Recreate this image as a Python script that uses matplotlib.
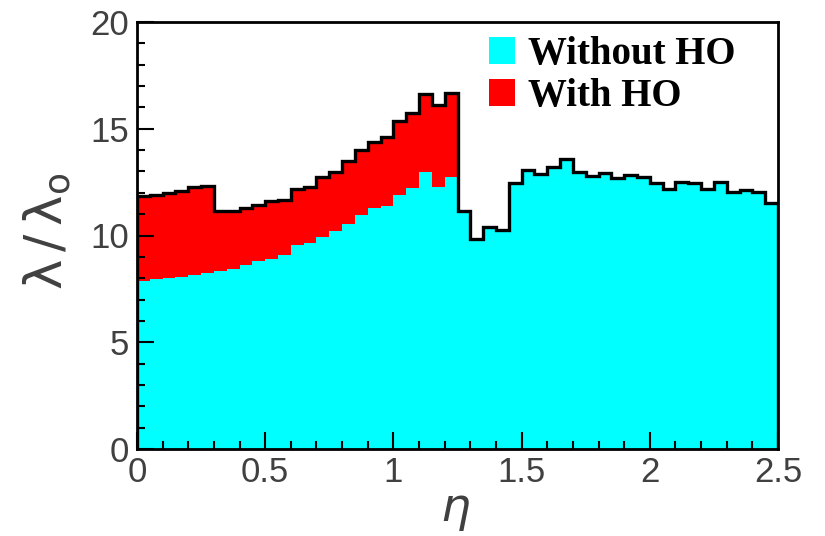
import numpy as np
import matplotlib
matplotlib.use("Agg")
import matplotlib.pyplot as plt
from matplotlib.patches import Patch

# 50 bins in eta, 0 to 2.5
eta_edges = np.linspace(0.0, 2.5, 51)

without_ho = [7.88, 7.95, 8.00, 8.05, 8.15, 8.23, 8.35, 8.42, 8.60, 8.80,
              8.90, 9.09, 9.55, 9.66, 9.94, 10.22, 10.54, 10.96, 11.27, 11.38,
              11.90, 12.21, 12.96, 12.26, 12.75, 11.13, 9.84, 10.38, 10.26, 12.44,
              13.07, 12.88, 13.22, 13.58, 12.96, 12.80, 12.94, 12.70, 12.83, 12.75,
              12.47, 12.16, 12.49, 12.44, 12.16, 12.52, 12.05, 12.13, 12.05, 11.51]

with_ho = [11.85, 11.92, 11.97, 12.10, 12.25, 12.32, 11.15, 11.15, 11.30, 11.45,
           11.60, 11.65, 12.18, 12.29, 12.75, 12.99, 13.49, 14.00, 14.37, 14.60,
           15.36, 15.72, 16.63, 16.11, 16.69, 11.13, 9.84, 10.38, 10.26, 12.44,
           13.07, 12.88, 13.22, 13.58, 12.96, 12.80, 12.94, 12.70, 12.83, 12.75,
           12.47, 12.16, 12.49, 12.44, 12.16, 12.52, 12.05, 12.13, 12.05, 11.51]

labels = ["Without HO", "With HO"]
x_ticks = [0, 0.5, 1, 1.5, 2, 2.5]
x_ticklabels = ["0", "0.5", "1", "1.5", "2", "2.5"]
y_ticks = [0, 5, 10, 15, 20]

fig = plt.figure(figsize=(8.25, 5.36), dpi=100)
ax = fig.add_axes([137/825, 1 - 449/536, 641/825, 427/536])

ax.stairs(with_ho, eta_edges, fill=True, color="#ff0000", lw=0)
ax.stairs(without_ho, eta_edges, fill=True, color="#00ffff", lw=0)
ax.stairs(with_ho, eta_edges, color="black", lw=2.4, baseline=0)

ax.set_xlim(0, 2.5)
ax.set_ylim(0, 20)

ax.set_xticks(x_ticks)
ax.set_xticklabels(x_ticklabels)
ax.set_xticks(np.arange(0, 2.51, 0.1), minor=True)
ax.set_yticks(y_ticks)
ax.set_yticks(np.arange(0, 21, 1), minor=True)

ax.tick_params(which="both", direction="in", top=False, right=False,
               width=1.5, colors="black", labelcolor="#404040",
               labelsize=25)
ax.tick_params(which="major", length=12)
ax.tick_params(which="minor", length=6)
ax.tick_params(axis="x", pad=5)
ax.tick_params(axis="y", pad=6)
for lbl in ax.get_xticklabels() + ax.get_yticklabels():
    lbl.set_family("Liberation Sans")

for sp in ax.spines.values():
    sp.set_linewidth(2)
    sp.set_zorder(5)

ax.set_ylabel(r"$\mathrm{\lambda}\,/\,\mathrm{\lambda_o}$", fontsize=37, color="#404040")
ax.yaxis.set_label_coords(-0.1, 0.51)
ax.set_xlabel(r"$\eta$", fontsize=34, color="#404040")
ax.xaxis.set_label_coords(0.496, -0.145)
ax.xaxis.label.set_va("center")

handles = [Patch(facecolor="#00ffff", edgecolor="none"),
           Patch(facecolor="#ff0000", edgecolor="none")]
fig.legend(handles, labels, loc="upper left",
           bbox_to_anchor=(489/825, 1 - 36/536), bbox_transform=fig.transFigure,
           frameon=False, borderpad=0, borderaxespad=0,
           handlelength=0.68, handleheight=0.68, handletextpad=0.33,
           labelspacing=0.13,
           prop={"family": "Liberation Serif", "weight": "bold", "size": 28})

fig.savefig("out.png", dpi=100)
